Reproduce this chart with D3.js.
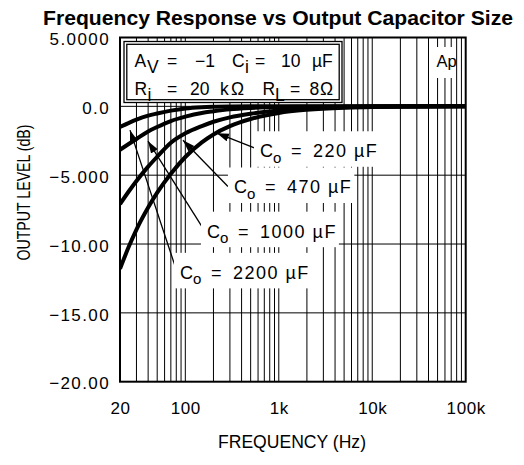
<!DOCTYPE html>
<html><head><meta charset="utf-8">
<script src="https://cdn.jsdelivr.net/npm/d3@7"></script>
<style>
body{margin:0;background:#fff}
svg{display:block}
text{font-family:"Liberation Sans",Arial,sans-serif;fill:#000}
</style>
</head><body>
<svg id="chart" width="524" height="465"></svg>
<script>
// ---------- data ----------
const chartTitle = "Frequency Response vs Output Capacitor Size";
const xTitle = "FREQUENCY (Hz)";
const yTitle = "OUTPUT LEVEL (dB)";
const xTickValues = [20, 100, 1000, 10000, 100000];
const xTickLabels = ["20", "100", "1k", "10k", "100k"];
const yTickValues = [5, 0, -5, -10, -15, -20];
const yTickLabels = ["5.0000", "0.0", "\u22125.000", "\u221210.00", "\u221215.00", "\u221220.00"];
const yGridValues = [0, -5, -10, -15];

const frequencies = [20, 25, 30, 40, 50, 70, 100, 150, 200, 300, 500, 1000, 2000, 5000, 10000, 100000];
const capacitors  = ["2200", "1000", "470", "220"];
const level2200 = [-1.50, -1.20, -0.97, -0.68, -0.52, -0.31, -0.15, -0.06, -0.03, -0.01, 0, 0, 0, 0, 0, 0];
const level1000 = [-3.15, -2.72, -2.37, -1.82, -1.50, -1.07, -0.75, -0.48, -0.36, -0.22, -0.12, -0.05, -0.03, -0.01, 0, 0];
const level470  = [-7.10, -6.15, -5.42, -4.38, -3.66, -2.64, -1.96, -1.43, -1.12, -0.80, -0.535, -0.295, -0.16, -0.06, -0.03, 0];
const level220  = [-11.80, -10.15, -8.95, -7.35, -6.27, -4.90, -3.68, -2.62, -2.04, -1.44, -0.92, -0.48, -0.25, -0.10, -0.05, 0];
const levels = [level2200, level1000, level470, level220];

// annotation anchors (data coordinates)
const labelFreq   = [89.8, 174.7, 339.6, 644];
const labelDb     = [-12.53, -9.54, -6.33, -3.70];
const arrowTipFreq  = [25.6, 39.9, 94.4, 218];
const arrowTipDb    = [-1.73, -2.53, -2.46, -1.95];
const arrowTailFreq = [79.4, 150.7, 286, 556];
const arrowTailDb   = [-11.8, -8.74, -5.82, -3.04];

// ---------- layout ----------
const svg = d3.select("#chart");
const L = 120, R = 465.7, T = 37.5, B = 381.7;
const x = d3.scaleLog().domain([20, 100000]).range([L, R]);
const y = d3.scaleLinear().domain([-20, 5]).range([B, T]);

// title
svg.append("text").attr("x", 278).attr("y", 25).attr("text-anchor", "middle")
  .style("font-weight", "bold").style("font-size", "21px")
  .attr("textLength", 470).attr("lengthAdjust", "spacingAndGlyphs")
  .text(chartTitle);

// grid
const grid = svg.append("g").attr("stroke", "#000").attr("stroke-width", 1);
const minor = [];
for (let d = 10; d <= 10000; d *= 10) for (let k = 1; k <= 9; k++) {
  const v = k * d; if (v > 20 && v < 100000) minor.push(v);
}
grid.selectAll("line.v").data(minor).join("line").attr("class", "v")
  .attr("x1", d => x(d)).attr("x2", d => x(d)).attr("y1", T).attr("y2", B);
grid.selectAll("line.h").data(yGridValues).join("line").attr("class", "h")
  .attr("x1", L).attr("x2", R).attr("y1", d => y(d)).attr("y2", d => y(d));

// frame
svg.append("rect").attr("x", L).attr("y", T).attr("width", R - L).attr("height", B - T)
  .attr("fill", "none").attr("stroke", "#000").attr("stroke-width", 2);

// axes
const xAxis = d3.axisBottom(x).tickValues(xTickValues)
  .tickFormat((d, i) => xTickLabels[i]).tickSize(0).tickPadding(20);
const gx = svg.append("g").attr("transform", `translate(0,${B})`).call(xAxis);
gx.select(".domain").remove();
gx.selectAll("text").style("font-size", "17px").style("font-family", '"Liberation Sans",Arial,sans-serif')
  .style("letter-spacing", "0.6px").attr("fill", "#000");

const yAxis = d3.axisLeft(y).tickValues(yTickValues)
  .tickFormat((d, i) => yTickLabels[i]).tickSize(0).tickPadding(10);
const gy = svg.append("g").attr("transform", `translate(${L},0)`).call(yAxis);
gy.select(".domain").remove();
gy.selectAll("text").style("font-size", "17px").style("font-family", '"Liberation Sans",Arial,sans-serif')
  .style("letter-spacing", "1.4px").attr("dy", "0.42em").attr("fill", "#000");

// axis titles
svg.append("text").attr("x", 292).attr("y", 448).attr("text-anchor", "middle")
  .style("font-size", "18px").attr("textLength", 148).attr("lengthAdjust", "spacingAndGlyphs")
  .text(xTitle);
svg.append("text").attr("transform", "translate(30,192.5) rotate(-90) scale(0.745,1)")
  .attr("text-anchor", "middle").style("font-size", "19px")
  .text(yTitle);

// info box
const bx = 124, by = 41.5, bw = 218, bh = 61;
svg.append("rect").attr("x", bx).attr("y", by).attr("width", bw).attr("height", bh)
  .attr("fill", "#fff").attr("stroke", "#000").attr("stroke-width", 1.3);
svg.append("rect").attr("x", bx + 2.8).attr("y", by + 2.8).attr("width", bw - 5.6).attr("height", bh - 5.6)
  .attr("fill", "none").attr("stroke", "#000").attr("stroke-width", 1.3);

function segText(parent, segs, size) {
  const t = parent.append("text").style("font-size", size + "px");
  segs.forEach(s => {
    t.append("tspan").attr("x", s[1]).attr("y", s[2]).text(s[0]);
  });
  return t;
}
segText(svg, [
  ["A", 134.5, 67], ["V", 147, 72.5], ["=", 167, 67], ["\u22121", 195, 67],
  ["C", 232, 67], ["i", 245, 72.5], ["=", 255, 67], ["10", 281, 67], ["\u00b5F", 312, 67]
], 17.5);
segText(svg, [
  ["R", 134.5, 95], ["i", 147.5, 100.5], ["=", 167, 95], ["20", 190, 95], ["k", 220, 95], ["\u03a9", 231, 95],
  ["R", 262.5, 95], ["L", 275, 100.5], ["=", 290, 95], ["8", 309.5, 95], ["\u03a9", 320, 95]
], 17.5);

// "Ap" tag
svg.append("rect").attr("x", 435).attr("y", 47).attr("width", 19).attr("height", 31).attr("fill", "#fff");
svg.append("text").attr("x", 436.5).attr("y", 67).style("font-size", "16.5px").text("Ap");

// curve labels with white backgrounds
const labelG = svg.append("g");
const labelNodes = capacitors.map((c, i) => {
  const x0 = x(labelFreq[i]), yb = y(labelDb[i]);
  const t = labelG.append("text").style("font-size", "18px").style("letter-spacing", "1.5px");
  t.append("tspan").attr("x", x0 - 1).attr("y", yb).text("C");
  t.append("tspan").attr("x", x0 + 12).attr("y", yb + 5.5).style("font-size", "15px").text("o");
  t.append("tspan").attr("x", x0 + 30).attr("y", yb).text("=");
  t.append("tspan").attr("x", x0 + 52).attr("y", yb).text(c + " \u00b5F");
  return t;
});
labelNodes.forEach(t => {
  const b = t.node().getBBox();
  labelG.insert("rect", "text").attr("x", b.x - 6).attr("y", b.y - 10)
    .attr("width", b.width + 8).attr("height", b.height + 11).attr("fill", "#fff");
});

// curves
const clip = svg.append("clipPath").attr("id", "clip").append("rect")
  .attr("x", L).attr("y", T).attr("width", R - L).attr("height", B - T);
const line = d3.line().x(d => x(d[0])).y(d => y(d[1])).curve(d3.curveMonotoneX);
svg.append("g").attr("clip-path", "url(#clip)").selectAll("path.curve").data(levels).join("path")
  .attr("class", "curve").attr("fill", "none").attr("stroke", "#000").attr("stroke-width", 4)
  .attr("stroke-linecap", "butt")
  .attr("d", lv => line(frequencies.map((f, i) => [f, lv[i]])));

// arrows
svg.append("defs").append("marker").attr("id", "ah").attr("markerUnits", "userSpaceOnUse")
  .attr("markerWidth", 14).attr("markerHeight", 10).attr("refX", 12).attr("refY", 4)
  .attr("orient", "auto").append("path").attr("d", "M0,0 L12,4 L0,8 Z").attr("fill", "#000");
svg.selectAll("line.arrow").data(capacitors).join("line").attr("class", "arrow")
  .attr("x1", (d, i) => x(arrowTailFreq[i])).attr("y1", (d, i) => y(arrowTailDb[i]))
  .attr("x2", (d, i) => x(arrowTipFreq[i])).attr("y2", (d, i) => y(arrowTipDb[i]))
  .attr("stroke", "#000").attr("stroke-width", 1.3).attr("marker-end", "url(#ah)");

// bring labels to front
labelG.raise();
labelG.selectAll("rect").lower();
</script>
</body></html>
